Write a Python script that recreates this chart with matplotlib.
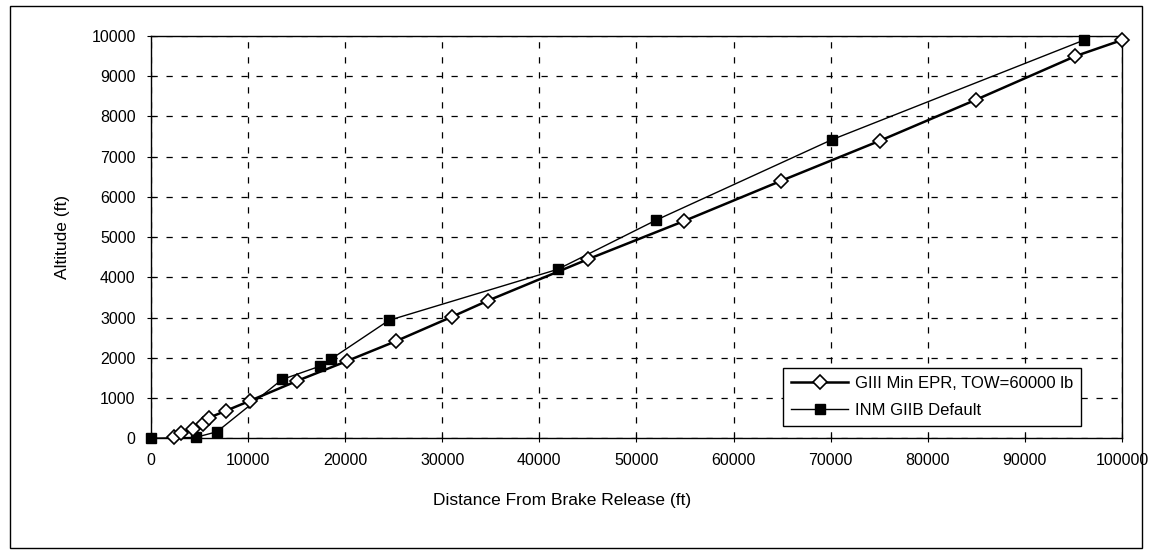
import matplotlib.pyplot as plt
from matplotlib.patches import Rectangle

plt.rcParams['font.family'] = ['Liberation Sans', 'DejaVu Sans']

# GIII Min EPR, TOW=60000 lb
giii_x = [2400, 3100, 4300, 5400, 6000, 7700, 10200, 15000, 20200, 25200, 31000, 34700,
          45000, 54900, 64900, 75100, 85000, 95200, 100000]
giii_y = [20, 140, 220, 350, 510, 680, 930, 1420, 1920, 2410, 3020, 3420,
          4450, 5400, 6400, 7400, 8420, 9500, 9900]

# INM GIIB Default
inm_x = [0, 4600, 6800, 13500, 17400, 18500, 24500, 41900, 52000, 70100, 96100]
inm_y = [0, 20, 160, 1460, 1790, 1960, 2930, 4200, 5420, 7420, 9900]

fig = plt.figure(figsize=(11.52, 5.54), dpi=100)
ax = fig.add_axes([0.131, 0.209, 0.843, 0.726])

ax.plot(inm_x, inm_y, '-s', color='black', lw=1.0, ms=7, mfc='black', mec='black',
        label='INM GIIB Default', zorder=3, clip_on=False)
ax.plot(giii_x, giii_y, '-D', color='black', lw=1.8, ms=7.5, mfc='white', mec='black',
        mew=1.2, label='GIII Min EPR, TOW=60000 lb', zorder=4, clip_on=False)

ax.set_xlim(0, 100000)
ax.set_ylim(0, 10000)
ax.set_xticks(range(0, 100001, 10000))
ax.set_yticks(range(0, 10001, 1000))
ax.grid(True, ls=(0, (5, 7)), color='black', lw=0.9)
ax.tick_params(direction='inout', length=6, labelsize=11.5, color='black', pad=8)
for s in ax.spines.values():
    s.set_linewidth(1.0)
    s.set_color('black')

ax.set_xlabel('Distance From Brake Release (ft)', fontsize=12.5)
ax.set_ylabel('Altitude (ft)', fontsize=12.5)
ax.xaxis.set_label_coords(0.423, -0.135)
ax.yaxis.set_label_coords(-0.083, 0.5)

h, l = ax.get_legend_handles_labels()
leg = ax.legend(h[::-1], l[::-1], loc='upper left', bbox_to_anchor=(0.651, 0.175),
                fontsize=12, frameon=True, fancybox=False, edgecolor='black',
                framealpha=1, handlelength=3.4, handletextpad=0.4, borderpad=0.5,
                labelspacing=0.7, borderaxespad=0)
leg.get_frame().set_linewidth(1.0)

fig.patches.append(Rectangle((0.009, 0.01), 0.982, 0.98, transform=fig.transFigure,
                             fill=False, edgecolor='black', lw=1.0))

plt.savefig('out.png', dpi=100)
plt.close()
